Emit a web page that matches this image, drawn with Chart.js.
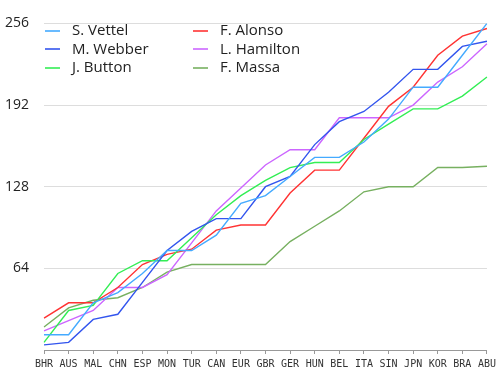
<!DOCTYPE html>
<html>
<head>
<meta charset="utf-8">
<script src="https://cdn.jsdelivr.net/npm/chart.js@4"></script>
<style>
  body { margin: 0; background: #fff; }
  #wrap { position: relative; width: 500px; height: 375px; }
  #legend { position: absolute; left: 45px; top: 20px; font-family: "Open Sans", sans-serif; font-size: 15px; color: #222; }
  .col { position: absolute; top: 0; }
  .item { height: 18.5px; line-height: 18px; white-space: nowrap; }
  .item span.mark { display: inline-block; width: 15px; height: 2px; vertical-align: middle; margin-right: 12px; opacity: 0.8; }
</style>
</head>
<body>
<div id="wrap">
  <canvas id="monthlyChart" width="500" height="375"></canvas>
  <div id="legend"></div>
</div>
<script>
const races = ["BHR", "AUS", "MAL", "CHN", "ESP", "MON", "TUR", "CAN", "EUR", "GBR",
  "GER", "HUN", "BEL", "ITA", "SIN", "JPN", "KOR", "BRA", "ABU"];
const yTicks = [64, 128, 192, 256];

const drivers = ["S. Vettel", "M. Webber", "J. Button", "F. Alonso", "L. Hamilton", "F. Massa"];
const vettel   = [12, 12, 37, 45, 60, 78, 78, 90, 115, 121, 136, 151, 151, 163, 181, 206, 206, 231, 256];
const webber   = [4, 6, 24, 28, 53, 78, 93, 103, 103, 128, 136, 161, 179, 187, 202, 220, 220, 238, 242];
const button   = [6, 31, 35, 60, 70, 70, 88, 106, 121, 133, 143, 147, 147, 165, 177, 189, 189, 199, 214];
const alonso   = [25, 37, 37, 49, 67, 75, 79, 94, 98, 98, 123, 141, 141, 166, 191, 206, 231, 246, 252];
const hamilton = [15, 23, 31, 49, 49, 59, 84, 109, 127, 145, 157, 157, 182, 182, 182, 192, 210, 222, 240];
const massa    = [18, 33, 39, 41, 49, 61, 67, 67, 67, 67, 85, 97, 109, 124, 128, 128, 143, 143, 144];
const colors = ["#44aaff", "#3355ee", "#33ee55", "#ff3333", "#cc66ff", "#77b060"];

const series = [vettel, webber, button, alonso, hamilton, massa];

let ctx = document.getElementById("monthlyChart").getContext("2d");

let chartInstance = new Chart(ctx, {
  type: "line",
  data: {
    labels: races,
    datasets: series.map((data, i) => ({
      label: drivers[i],
      data: data,
      borderColor: colors[i],
      backgroundColor: colors[i],
      borderWidth: 1.4,
      pointRadius: 0,
      tension: 0,
      fill: false
    }))
  },
  options: {
    responsive: false,
    animation: false,
    layout: { padding: { top: 12, right: 13, left: 0, bottom: 0 } },
    plugins: { legend: { display: false }, tooltip: { enabled: false } },
    scales: {
      x: {
        offset: false,
        grid: { drawOnChartArea: false, drawTicks: true, tickLength: 4, color: "#999" },
        border: { color: "#999" },
        ticks: {
          autoSkip: false, maxRotation: 0, padding: 4,
          color: "#333",
          font: { family: "DejaVu Sans Mono", size: 10 }
        },
        afterFit: scale => { scale.height = 25; }
      },
      y: {
        min: 0, max: 256,
        afterBuildTicks: scale => { scale.ticks = [0].concat(yTicks).map(v => ({ value: v })); },
        grid: { color: ctx => ctx.tick.value === 0 ? "rgba(0,0,0,0)" : "#dddddd", drawTicks: false },
        border: { display: false },
        ticks: {
          padding: 15, color: "#222",
          font: { family: "Open Sans", size: 14 },
          callback: v => v === 0 ? "" : v
        },
        afterFit: scale => { scale.width = 44; }
      }
    }
  }
});

// legend in two columns, drawn as html text
const legend = document.getElementById("legend");
[0, 1].forEach(c => {
  const col = document.createElement("div");
  col.className = "col";
  col.style.left = (c * 148) + "px";
  drivers.slice(c * 3, c * 3 + 3).forEach((name, j) => {
    const item = document.createElement("div");
    item.className = "item";
    item.innerHTML = `<span class="mark" style="background:${colors[c * 3 + j]}"></span>${name}`;
    col.appendChild(item);
  });
  legend.appendChild(col);
});
</script>
</body>
</html>
